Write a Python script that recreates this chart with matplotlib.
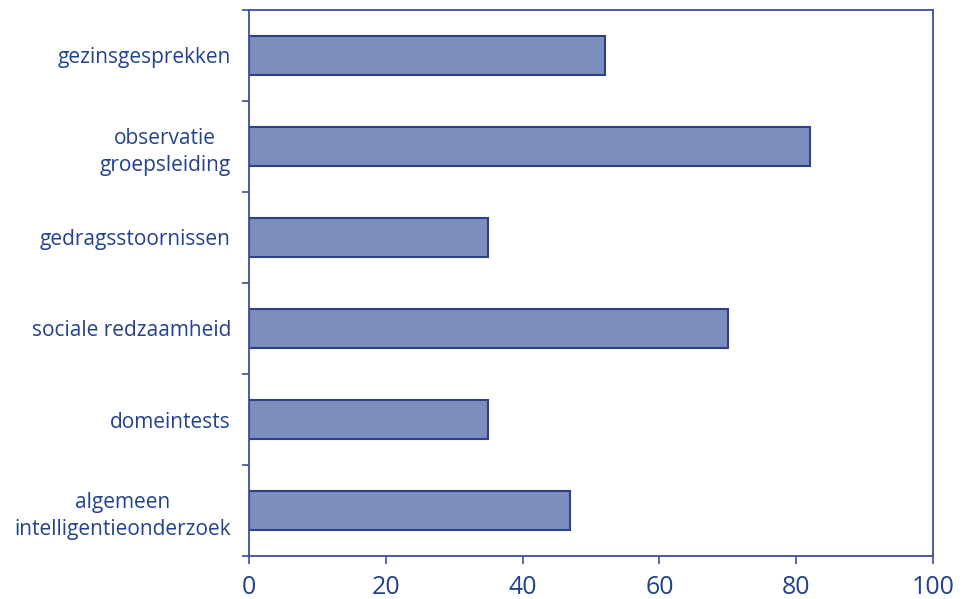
import matplotlib.pyplot as plt
import numpy as np

# Data (top to bottom as in the chart)
labels = ["gezinsgesprekken", "observatie\ngroepsleiding", "gedragsstoornissen",
          "sociale redzaamheid", "domeintests", "algemeen\nintelligentieonderzoek"]
values = [52, 82, 35, 70, 35, 47]
xticks = [0, 20, 40, 60, 80, 100]

txt = "#22418e"
line = "#3b4f98"
fill = "#7b8ebd"

plt.rcParams['font.family'] = ['Open Sans', 'DejaVu Sans']

fig = plt.figure(figsize=(9.63, 5.99), dpi=100)
ax = fig.add_axes([249/963, 1 - 556/599, (933-249)/963, (556-10)/599])

n = len(labels)
y = np.arange(n)[::-1]
ax.barh(y, values, height=0.42, color=fill, edgecolor="#2d4088", linewidth=1.5)

ax.set_xlim(0, 100)
ax.set_ylim(-0.5, n - 0.5)
ax.set_xticks(xticks)
ax.set_xticklabels([str(t) for t in xticks], fontsize=18, color=txt)
ax.set_yticks(y)
ax.set_yticklabels(labels, fontsize=15, color=txt, multialignment='center',
                   linespacing=1.35)
ax.set_yticks(np.arange(n + 1) - 0.5, minor=True)

ax.tick_params(axis='y', which='major', length=0, pad=13)
ax.tick_params(axis='y', which='minor', length=5, width=1.2, color=line)
ax.tick_params(axis='x', length=6, width=1.2, color=line, pad=8)

for s in ax.spines.values():
    s.set_color(line)
    s.set_linewidth(1.3)

fig.savefig("out.png", dpi=100)
